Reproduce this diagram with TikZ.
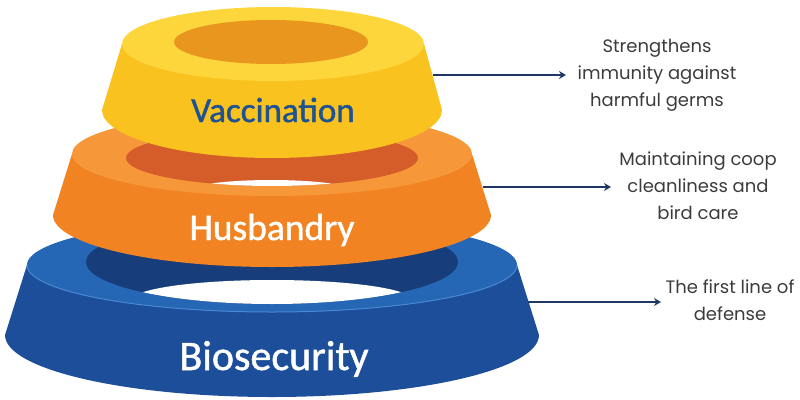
\documentclass[tikz,border=0pt]{standalone}
\usepackage{fontspec}
\setmainfont{Poppins}
\newfontfamily\ringfont{Carlito}[BoldFont=Carlito, BoldFeatures={FakeBold=1.2}]
\usetikzlibrary{arrows.meta}

\definecolor{yelTop}{HTML}{FDD63C}
\definecolor{yelSide}{HTML}{F9C21E}
\definecolor{yelHole}{HTML}{E9961E}
\definecolor{orgTop}{HTML}{F6973A}
\definecolor{orgSide}{HTML}{F28322}
\definecolor{orgHole}{HTML}{D45D2A}
\definecolor{bluTop}{HTML}{2566B5}
\definecolor{bluSide}{HTML}{1C4E9A}
\definecolor{bluHole}{HTML}{173E7A}
\definecolor{bluRim}{HTML}{4A89D2}
\definecolor{navy}{HTML}{1F3763}
\definecolor{noteGray}{HTML}{3C3C3C}
\definecolor{vacText}{HTML}{1E5290}

\tikzset{
  pointer/.style={draw=navy, line width=2.2pt, -{Stealth[length=7pt,width=8pt]}},
  note/.style={align=center, text=noteGray, inner sep=0pt,
    font=\fontsize{18}{27}\selectfont},
  ringlabel/.style={anchor=base, inner sep=0pt},
}

\begin{document}
\begin{tikzpicture}[x=1pt,y=-1pt]
\useasboundingbox (0,0) rectangle (800,399);

% ---- bottom ring: Biosecurity ----
\fill[bluSide] (27,265) -- (5,335) arc[start angle=180,end angle=0,x radius=267,y radius=62] -- (517,265) -- cycle;
\fill[bluTop] (272,265) ellipse[x radius=245,y radius=47];
\draw[bluRim, line width=1pt] (27,265) arc[start angle=180,end angle=0,x radius=245,y radius=47];
\fill[bluHole] (272,262) ellipse[x radius=186,y radius=42];
\begin{scope}
  \clip (272,262) ellipse[x radius=186,y radius=42];
  \fill[white] (272,300) ellipse[x radius=140,y radius=20];
\end{scope}

% ---- middle ring: Husbandry ----
\fill[orgSide] (72,154) -- (53,215) arc[start angle=180,end angle=0,x radius=219,y radius=52] -- (472,154) -- cycle;
\fill[orgTop] (272,154) ellipse[x radius=200,y radius=42];
\fill[orgHole] (272,158) ellipse[x radius=146,y radius=28];
\begin{scope}
  \clip (272,158) ellipse[x radius=146,y radius=28];
  \fill[white] (271,192) ellipse[x radius=85,y radius=12];
\end{scope}

% ---- top ring: Vaccination ----
\fill[yelSide] (122,44) -- (102,110) arc[start angle=180,end angle=0,x radius=170,y radius=48] -- (424,44) -- cycle;
\fill[yelTop] (273,44) ellipse[x radius=151,y radius=37];
\fill[yelHole] (271,42) ellipse[x radius=97,y radius=22];

% ---- ring labels ----
\node[ringlabel, text=vacText, font=\ringfont\bfseries\fontsize{35}{35}\selectfont] (vac) at (273,122) {Vaccination};
\node[ringlabel, text=white, font=\ringfont\bfseries\fontsize{37.5}{37.5}\selectfont] (hus) at (272,240) {Husbandry};
\node[ringlabel, text=white, font=\ringfont\bfseries\fontsize{42}{42}\selectfont] (bio) at (274,370) {Biosecurity};

% ---- side notes ----
\node[note] (vac-note) at (657,75) {Strengthens\\immunity against\\harmful germs};
\node[note] (hus-note) at (698,186) {Maintaining coop\\cleanliness and\\bird care};
\node[note] (bio-note) at (730,300) {The first line of\\defense};

\coordinate (vac-edge) at (433,75);
\coordinate (vac-tip) at (566,75);
\coordinate (hus-edge) at (483,187);
\coordinate (hus-tip) at (611,187);
\coordinate (bio-edge) at (528,302);
\coordinate (bio-tip) at (661,302);

\draw[pointer] (vac-edge) -- (vac-tip);
\draw[pointer] (hus-edge) -- (hus-tip);
\draw[pointer] (bio-edge) -- (bio-tip);
\end{tikzpicture}
\end{document}
